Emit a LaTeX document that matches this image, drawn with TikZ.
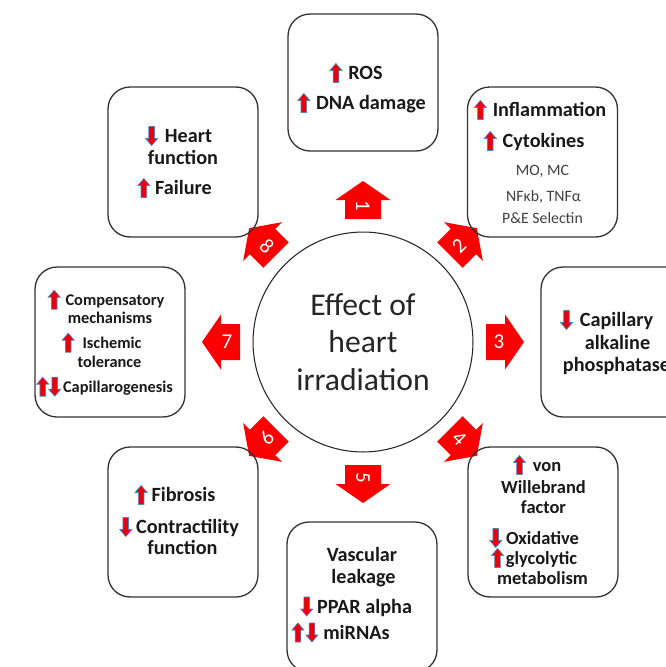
\documentclass[tikz,border=0pt]{standalone}
\usepackage{fontspec}
\setmainfont{Carlito}
\usetikzlibrary{calc}

\definecolor{effred}{RGB}{250,0,0}
\definecolor{indred}{RGB}{232,0,10}
\definecolor{indedge}{RGB}{84,130,196}

\tikzset{
  card/.style={draw=black!80, line width=0.75pt, rounded corners=0.44cm,
    minimum width=3cm, minimum height=3cm, inner sep=0pt},
  hub/.style={circle, draw=black!85, line width=0.6pt, minimum size=4.4cm,
    align=center, text=black!85, font=\fontsize{18}{21.3}\selectfont},
  item/.style={inner sep=0pt, anchor=base, text=black!90,
    font=\bfseries\fontsize{11.5}{13}\selectfont},
  itemsm/.style={item, font=\bfseries\fontsize{10.5}{12}\selectfont},
  itemxs/.style={item, font=\bfseries\fontsize{9.3}{11}\selectfont},
  note/.style={inner sep=0pt, anchor=base, text=black!75,
    font=\fontsize{9}{11}\selectfont},
  num/.style={inner sep=0pt, text=white, font=\fontsize{12}{12}\selectfont},
  % small up/down markers in front of the items
  upind/.pic={
    \filldraw[fill=indred, draw=indedge, line width=0.4pt]
      (-2.8,9.5) -- (-2.8,-2.5) -- (-6,-2.5) -- (0,-9.5) -- (6,-2.5)
      -- (2.8,-2.5) -- (2.8,9.5) -- cycle;},
  dnind/.pic={
    \filldraw[fill=indred, draw=indedge, line width=0.4pt, rotate=180]
      (-2.8,9.5) -- (-2.8,-2.5) -- (-6,-2.5) -- (0,-9.5) -- (6,-2.5)
      -- (2.8,-2.5) -- (2.8,9.5) -- cycle;},
  % numbered block arrow, drawn pointing right, #2 turns the number
  pics/effect/.style 2 args={code={
    \fill[effred] (-19,-18) -- (0,-18) -- (0,-27.5) -- (19,0) -- (0,27.5)
      -- (0,18) -- (-19,18) -- cycle;
    \node[num, rotate=#2] (-n) at (-6,0) {#1};}},
}

\begin{document}
\begin{tikzpicture}[x=0.02cm, y=-0.02cm]
  \useasboundingbox (0,0) rectangle (666,667);
  \fill[white] (0,0) rectangle (666,667);

  % arrows round the centre
  \pic[rotate=90]   (a1) at (363,200)     {effect={1}{-90}};
  \pic[rotate=45]   (a2) at (463.4,241.6) {effect={2}{45}};
  \pic[rotate=0]    (a3) at (505,342)     {effect={3}{0}};
  \pic[rotate=-45]  (a4) at (463.4,442.4) {effect={4}{-45}};
  \pic[rotate=-90]  (a5) at (363,484)     {effect={5}{-90}};
  \pic[rotate=-135] (a6) at (262.6,442.4) {effect={6}{45}};
  \pic[rotate=180]  (a7) at (221,342)     {effect={7}{0}};
  \pic[rotate=135]  (a8) at (262.6,241.6) {effect={8}{-45}};

  \node[hub] (hub) at (363,342) {Effect of\\heart\\irradiation};

  % boxes
  \node[card, minimum height=2.74cm] (b1) at (363,82.5) {};
  \node[card] (b2) at (542.5,162) {};
  \node[card] (b3) at (616,342) {};
  \node[card] (b4) at (543,522) {};
  \node[card] (b5) at (362,597) {};
  \node[card] (b6) at (183,522) {};
  \node[card] (b7) at (110,342) {};
  \node[card] (b8) at (183,162) {};

  % 1
  \node[item] (r1) at (365.5,79.5) {ROS};
  \node[item] (r2) at (371,109.5) {DNA damage};
  \pic at ($(r1.base west)+(-12,-6.5)$) {upind};
  \pic at ($(r2.base west)+(-12,-6.5)$) {upind};

  % 2
  \node[item] (i1) at (549.5,116.5) {Inflammation};
  \node[item] (i2) at (543.5,147.5) {Cytokines};
  \node[note] (i3) at (542.5,175) {MO, MC};
  \node[note] (i4) at (543.5,201) {NFκb, TNFα};
  \node[note] (i5) at (542.5,223) {P\&E Selectin};
  \pic at ($(i1.base west)+(-12,-6.5)$) {upind};
  \pic at ($(i2.base west)+(-12,-6.5)$) {upind};

  % 3
  \node[item] (c1) at (616.5,326.5) {Capillary};
  \node[item] (c2) at (617.5,349.5) {alkaline};
  \node[item] (c3) at (616.5,371.5) {phosphatase};
  \pic at ($(c1.base west)+(-13,-6.5)$) {dnind};

  % 4
  \node[itemsm] (v1) at (547,471) {von};
  \node[itemsm] (v2) at (543.5,493) {Willebrand};
  \node[itemsm] (v3) at (543.5,513) {factor};
  \node[itemsm] (v4) at (542.5,544) {Oxidative};
  \node[itemsm] (v5) at (541.5,564) {glycolytic};
  \node[itemsm] (v6) at (542.5,584) {metabolism};
  \pic at ($(v1.base west)+(-13,-6)$) {upind};
  \pic at ($(v4.base west)+(-10,-6)$) {dnind};
  \pic at ($(v5.base west)+(-8,-6)$) {upind};

  % 5
  \node[item] (l1) at (362,561) {Vascular};
  \node[item] (l2) at (363.5,583) {leakage};
  \node[item] (l3) at (364.5,613) {PPAR alpha};
  \node[item] (l4) at (356.5,639) {miRNAs};
  \pic at ($(l3.base west)+(-10,-6.5)$) {dnind};
  \pic at ($(l4.base west)+(-25,-6.5)$) {upind};
  \pic at ($(l4.base west)+(-11,-6.5)$) {dnind};

  % 6
  \node[item] (f1) at (183.5,501.5) {Fibrosis};
  \node[item] (f2) at (187.5,533.5) {Contractility};
  \node[item] (f3) at (182.5,554.5) {function};
  \pic at ($(f1.base west)+(-10,-6.5)$) {upind};
  \pic at ($(f2.base west)+(-10,-6.5)$) {dnind};

  % 7
  \node[itemxs] (m1) at (115,305) {Compensatory};
  \node[itemxs] (m2) at (110,323) {mechanisms};
  \node[itemxs] (m3) at (112,348) {Ischemic};
  \node[itemxs] (m4) at (109.5,367) {tolerance};
  \node[itemxs] (m5) at (118,392) {Capillarogenesis};
  \pic at ($(m1.base west)+(-11,-5.3)$) {upind};
  \pic at ($(m3.base west)+(-14,-5.3)$) {upind};
  \pic at ($(m5.base west)+(-20,-5.3)$) {upind};
  \pic at ($(m5.base west)+(-8,-5.3)$) {dnind};

  % 8
  \node[item] (h1) at (188.5,142.5) {Heart};
  \node[item] (h2) at (183,164.5) {function};
  \node[item] (h3) at (183.5,194.5) {Failure};
  \pic at ($(h1.base west)+(-13,-6.5)$) {dnind};
  \pic at ($(h3.base west)+(-11,-6.5)$) {upind};
\end{tikzpicture}
\end{document}
